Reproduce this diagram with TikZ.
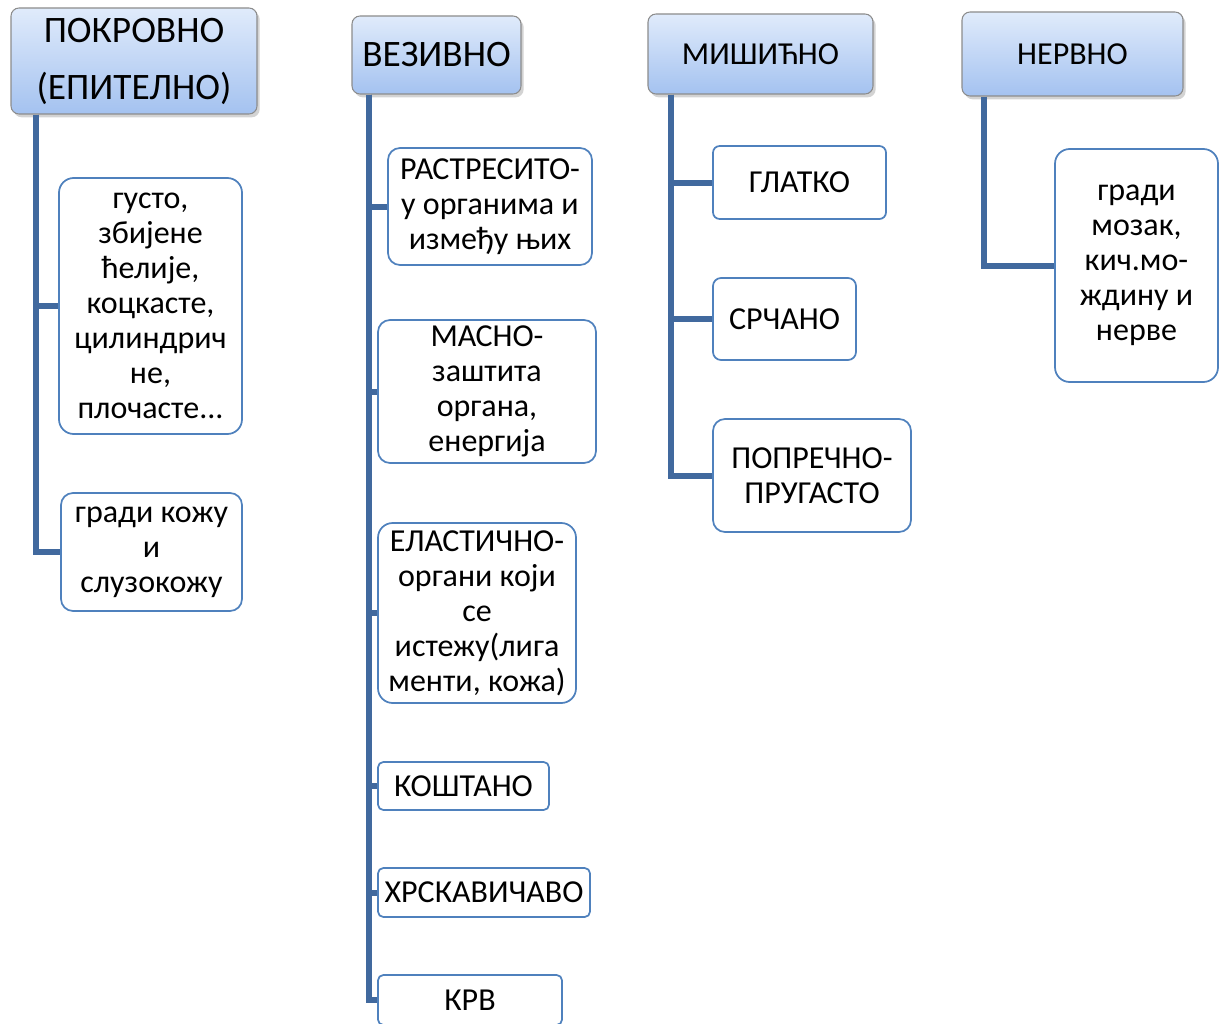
\documentclass[tikz,border=0pt]{standalone}
\usepackage{fontspec}
\setmainfont{Carlito}
\usetikzlibrary{positioning,shadows}

\definecolor{trunkblue}{RGB}{65,105,158}
\definecolor{boxblue}{RGB}{79,129,189}
\definecolor{hdrtop}{RGB}{224,235,251}
\definecolor{hdrbot}{RGB}{164,194,240}
\definecolor{hdrline}{RGB}{140,140,140}

\begin{document}
\begin{tikzpicture}[
  x=0.75pt, y=-0.75pt,
  hdr/.style={draw=hdrline, line width=0.8pt, rounded corners=6pt, top color=hdrtop, bottom color=hdrbot,
    drop shadow={opacity=0.35, shadow xshift=2pt, shadow yshift=-2.5pt}, align=center, inner sep=0pt,
    font=\fontsize{28}{34}\selectfont},
  smallhdr/.style={hdr, font=\fontsize{24}{29}\selectfont},
  child/.style={draw=boxblue, line width=1.3pt, fill=white, rounded corners=9pt, align=center, inner sep=0pt,
    font=\fontsize{24}{26.25}\selectfont},
  small/.style={child, rounded corners=4pt},
  trunk/.style={draw=trunkblue, line width=4.5pt}
]
\useasboundingbox (0,0) rectangle (1221,1024);

% headers
\node[hdr, minimum width=184.5pt, minimum height=79.5pt] (pokrovno) at (134,61) {ПОКРОВНО\\[8.75pt](ЕПИТЕЛНО)};
\node[hdr, minimum width=126.75pt, minimum height=58.5pt] (vezivno) at (436.5,55) {ВЕЗИВНО};
\node[smallhdr, minimum width=168.75pt, minimum height=60pt] (misicno) at (760.5,54) {МИШИЋНО};
\node[smallhdr, minimum width=165.75pt, minimum height=63pt] (nervno) at (1072.5,54) {НЕРВНО};

% epitelno
\node[child, rounded corners=11pt, minimum width=137.25pt, minimum height=192pt] (gusto) at (150.5,306)
  {густо,\\збијене\\ћелије,\\коцкасте,\\цилиндрич\\не,\\плочасте...};
\node[child, minimum width=135.75pt, minimum height=88.5pt] (koza) at (151.5,552) {гради кожу\\и\\слузокожу};

% vezivno
\node[child, minimum width=153pt, minimum height=87.75pt] (rastresito) at (490,206.5) {РАСТРЕСИТО-\\у органима и\\између њих};
\node[child, minimum width=163.5pt, minimum height=107.25pt] (masno) at (487,391.5) {МАСНО-\\заштита\\органа,\\енергија};
\node[child, rounded corners=11pt, minimum width=148.5pt, minimum height=135pt] (elasticno) at (477,613)
  {ЕЛАСТИЧНО-\\органи који\\се\\истежу(лига\\менти, кожа)};
\node[small, minimum width=128.25pt, minimum height=36pt] (kostano) at (463.5,786) {КОШТАНО};
\node[small, minimum width=159pt, minimum height=36.75pt] (hrskavicavo) at (484,892.5) {ХРСКАВИЧАВО};
\node[small, minimum width=138pt, minimum height=37.5pt] (krv) at (470,1000) {КРВ};

% misicno
\node[small, rounded corners=5pt, minimum width=129.75pt, minimum height=54.75pt] (glatko) at (799.5,182.5) {ГЛАТКО};
\node[small, rounded corners=6pt, minimum width=107.25pt, minimum height=61.5pt] (srcano) at (784.5,319) {СРЧАНО};
\node[child, minimum width=148.5pt, minimum height=84.75pt] (poprecno) at (812,475.5) {ПОПРЕЧНО-\\ПРУГАСТО};

% nervno
\node[child, rounded corners=11pt, minimum width=122.25pt, minimum height=174.75pt] (mozak) at (1136.5,265.5)
  {гради\\мозак,\\кич.мо-\\ждину и\\нерве};

% connectors
\foreach \c in {gusto,koza}
  \draw[trunk] ([xshift=19.5pt]pokrovno.south west) |- (\c.west);
\foreach \c in {rastresito,masno,elasticno,kostano,hrskavicavo,krv}
  \draw[trunk] ([xshift=13.5pt]vezivno.south west) |- (\c.west);
\foreach \c in {glatko,srcano,poprecno}
  \draw[trunk] ([xshift=18pt]misicno.south west) |- (\c.west);
\draw[trunk] ([xshift=17.25pt]nervno.south west) |- (mozak.west);

\end{tikzpicture}
\end{document}
